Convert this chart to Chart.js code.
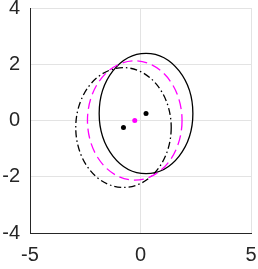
<!DOCTYPE html>
<html>
<head>
<meta charset="utf-8">
<script src="https://cdn.jsdelivr.net/npm/chart.js@4/dist/chart.umd.min.js"></script>
<style>
  html, body { margin: 0; padding: 0; background: #fff; }
  #wrap { width: 258px; height: 269px; }
</style>
</head>
<body>
<div id="wrap"><canvas id="chartEllipses"></canvas></div>
<script>
// Données
const xTicks = [-5, 0, 5];
const yTicks = [-4, -2, 0, 2, 4];

// Centres des trois ellipses (le magenta est la moyenne des deux autres)
const centerX = [0.25, -0.77, -0.26];
const centerY = [0.25, -0.25, 0.0];
// Demi-axes en unités de données
const radiusX = [2.12, 2.16, 2.14];
const radiusY = [2.14, 2.13, 2.12];
const lineColors = ['#000000', '#000000', '#ff00ff'];
const lineDashes = [[], [7, 3, 1.5, 3], [10, 5]];

// Plugin : trace les ellipses via les échelles du graphique
const ellipsePlugin = {
    id: 'ellipses',
    afterDatasetsDraw(chart) {
        const ctx = chart.ctx;
        const xs = chart.scales.x, ys = chart.scales.y;
        const area = chart.chartArea;
        ctx.save();
        ctx.beginPath();
        ctx.rect(area.left, area.top, area.right - area.left, area.bottom - area.top);
        ctx.clip();
        for (let i = 0; i < centerX.length; i++) {
            const px = xs.getPixelForValue(centerX[i]);
            const py = ys.getPixelForValue(centerY[i]);
            const rx = Math.abs(xs.getPixelForValue(centerX[i] + radiusX[i]) - px);
            const ry = Math.abs(ys.getPixelForValue(centerY[i] + radiusY[i]) - py);
            ctx.beginPath();
            ctx.ellipse(px, py, rx, ry, 0, 0, Math.PI * 2);
            ctx.strokeStyle = lineColors[i];
            ctx.lineWidth = 1.3;
            ctx.setLineDash(lineDashes[i]);
            ctx.stroke();
        }
        ctx.restore();
    }
};

const ctx = document.getElementById('chartEllipses');
new Chart(ctx, {
    type: 'scatter',
    data: {
        datasets: centerX.map((x, i) => ({
            data: [{ x: x, y: centerY[i] }],
            backgroundColor: lineColors[i],
            borderColor: lineColors[i],
            pointRadius: 2.5,
            pointBorderWidth: 0
        }))
    },
    options: {
        animation: false,
        responsive: true,
        maintainAspectRatio: false,
        layout: { padding: { top: 8, right: 7, left: 0, bottom: 0 } },
        plugins: { legend: { display: false }, tooltip: { enabled: false } },
        scales: {
            x: {
                type: 'linear',
                min: -5, max: 5,
                afterBuildTicks: s => { s.ticks = xTicks.map(v => ({ value: v })); },
                afterFit: s => { s.height = 36; s.paddingLeft = 0; s.paddingRight = 0; },
                grid: { color: '#e3e3e3', drawTicks: false },
                border: { color: '#262626', width: 1 },
                ticks: { color: '#262626', padding: 10, maxRotation: 0, font: { family: 'Liberation Sans', size: 20 } }
            },
            y: {
                type: 'linear',
                min: -4, max: 4,
                afterBuildTicks: s => { s.ticks = yTicks.map(v => ({ value: v })); },
                afterFit: s => { s.width = 30; s.paddingTop = 0; s.paddingBottom = 0; },
                grid: { color: '#e3e3e3', drawTicks: false },
                border: { color: '#262626', width: 1 },
                ticks: { color: '#262626', padding: 10, font: { family: 'Liberation Sans', size: 20 } }
            }
        }
    },
    plugins: [ellipsePlugin]
});
</script>
</body>
</html>
